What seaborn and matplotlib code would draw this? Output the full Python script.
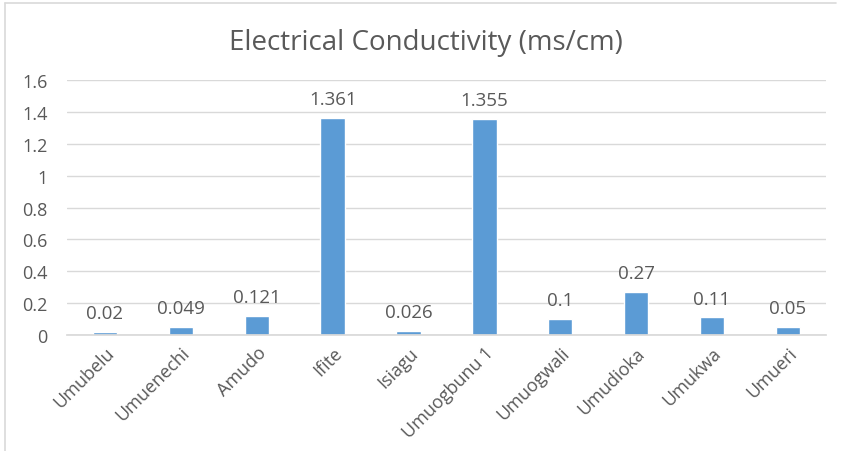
import matplotlib
matplotlib.use("Agg")
import matplotlib.pyplot as plt
import pandas as pd
import seaborn as sns
from matplotlib.lines import Line2D

sns.set_theme(style="white")
plt.rcParams["font.family"] = ["Open Sans", "DejaVu Sans"]

sites = ["Umubelu", "Umuenechi", "Amudo", "Ifite", "Isiagu",
         "Umuogbunu 1", "Umuogwali", "Umudioka", "Umukwa", "Umueri"]
conductivity = [0.02, 0.049, 0.121, 1.361, 0.026, 1.355, 0.1, 0.27, 0.11, 0.05]
value_labels = ["0.02", "0.049", "0.121", "1.361", "0.026",
                "1.355", "0.1", "0.27", "0.11", "0.05"]
yticks = [0, 0.2, 0.4, 0.6, 0.8, 1, 1.2, 1.4, 1.6]
ytick_labels = ["0", "0.2", "0.4", "0.6", "0.8", "1", "1.2", "1.4", "1.6"]

TEXT = "#595959"
BAR = "#5B9BD5"

df = pd.DataFrame({"site": sites, "ec": conductivity})

fig = plt.figure(figsize=(8.41, 4.52), dpi=100)
ax = fig.add_axes([0.0797, 0.2566, 0.9023, 0.5642])
sns.barplot(data=df, x="site", y="ec", color=BAR, width=0.32,
            saturation=1, ax=ax)

ax.set_ylim(0, 1.6)
ax.set_xlim(-0.5, len(sites) - 0.5)
ax.set_yticks(yticks)
ax.set_yticklabels(ytick_labels)
ax.yaxis.grid(True, color="#D9D9D9", linewidth=1)
ax.set_axisbelow(True)
for s in ["top", "right", "left"]:
    ax.spines[s].set_visible(False)
ax.spines["bottom"].set_color("#D9D9D9")
ax.tick_params(axis="both", length=0, labelsize=13, colors=TEXT)
ax.tick_params(axis="y", pad=14)
ax.tick_params(axis="x", pad=6)
ax.set_xlabel("")
ax.set_ylabel("")
plt.setp(ax.get_xticklabels(), rotation=45, ha="right",
         rotation_mode="anchor")

for i, (v, lab) in enumerate(zip(conductivity, value_labels)):
    ax.annotate(lab, (i, v), xytext=(0, 7), textcoords="offset points",
                ha="center", va="bottom", fontsize=13.5, color=TEXT)

fig.text(0.507, 0.905, "Electrical Conductivity (ms/cm)", ha="center",
         va="center", fontsize=20, color=TEXT)

# chart frame (left and top edges visible in the source)
fig.add_artist(Line2D([0.006, 0.006], [0.0, 0.992], color="#D9D9D9",
                      linewidth=1.2, transform=fig.transFigure))
fig.add_artist(Line2D([0.006, 0.994], [0.992, 0.992], color="#D9D9D9",
                      linewidth=1.2, transform=fig.transFigure))

fig.savefig("out.png", dpi=100)
